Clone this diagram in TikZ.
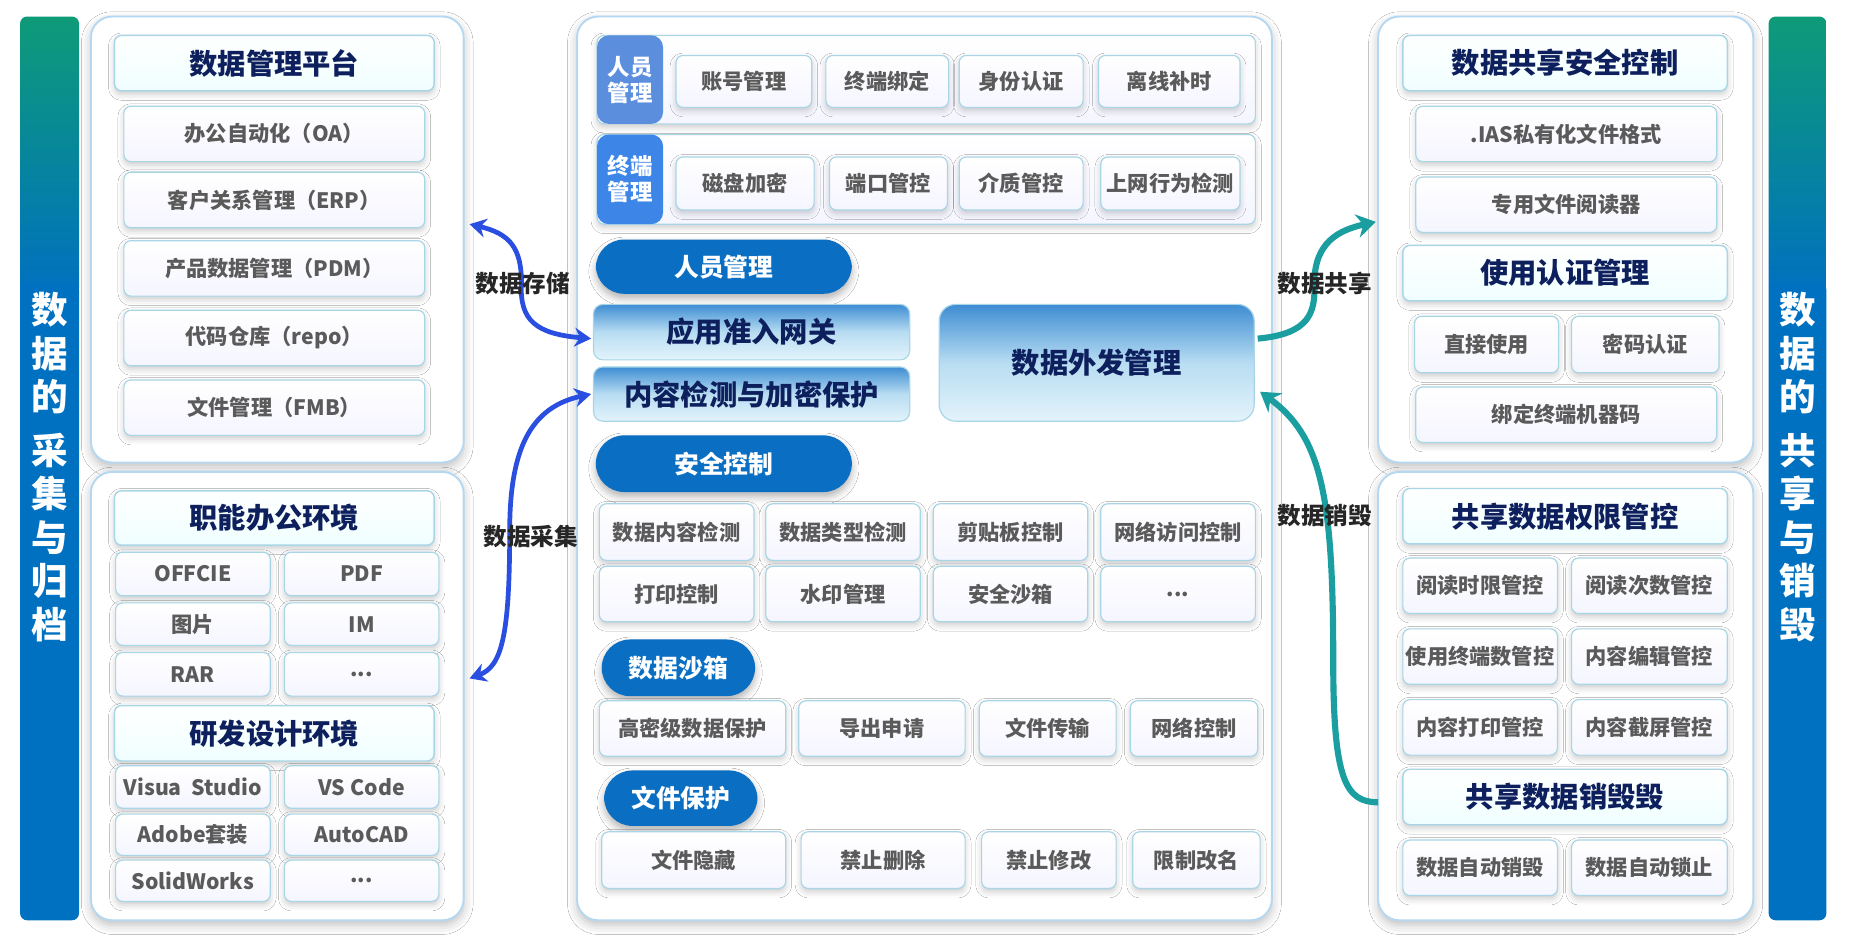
\documentclass[tikz,border=0pt]{standalone}
\usepackage{fontspec}
\setmainfont{Noto Sans CJK SC}
\usetikzlibrary{arrows.meta,shadows.blur}
\definecolor{navy}{HTML}{0D1F5C}
\definecolor{itg}{HTML}{5A5A5A}
\definecolor{bd}{HTML}{A9D6E6}
\definecolor{pbd}{HTML}{B5D8F2}
\definecolor{pill}{HTML}{0A6EC2}
\definecolor{arrB}{HTML}{2A4EE0}
\definecolor{arrT}{HTML}{1A9EA0}
\definecolor{barG}{HTML}{0E9B78}
\definecolor{barB}{HTML}{0070C0}
\tikzset{
 panel/.style={draw=pbd,line width=0.8pt,fill=white,rounded corners=9pt,blur shadow={shadow xshift=0pt,shadow yshift=-2pt,shadow blur radius=4pt,shadow opacity=25}},
 hdr/.style={draw=bd,line width=0.6pt,rounded corners=3pt,top color=white,bottom color=blue!4!cyan!6,text=navy,font=\bfseries\fontsize{12}{14}\selectfont,blur shadow={shadow xshift=0pt,shadow yshift=-1.5pt,shadow blur radius=2.5pt,shadow opacity=20}},
 itm/.style={draw=bd,line width=0.5pt,rounded corners=3pt,top color=white,bottom color=cyan!5!blue!4,text=itg,font=\bfseries\fontsize{9}{11}\selectfont,blur shadow={shadow xshift=0pt,shadow yshift=-1.5pt,shadow blur radius=2.5pt,shadow opacity=20}},
 grad/.style={draw=bd,line width=0.5pt,rounded corners=4pt,top color=HTMLa,bottom color=HTMLb,middle color=HTMLm,text=navy,font=\bfseries\fontsize{12}{14}\selectfont},
 pl/.style={fill=pill,rounded corners=12pt,text=white,font=\bfseries\fontsize{10.5}{12}\selectfont,blur shadow={shadow xshift=0pt,shadow yshift=-2pt,shadow blur radius=3pt,shadow opacity=30}},
 tile/.style={rounded corners=5pt,text=white,font=\bfseries\fontsize{9.5}{11}\selectfont,align=center},
 bar/.style={rounded corners=3pt},
 vt/.style={text=white,font=\bfseries\fontsize{15.5}{18.5}\selectfont,align=center,text width=18pt},
 lab/.style={text=black!85,font=\bfseries\fontsize{10}{12}\selectfont},
 arB/.style={draw=arrB,line width=2pt,{Stealth[length=7pt,width=8pt]}-{Stealth[length=7pt,width=8pt]}},
 arT/.style={draw=arrT,line width=2.6pt,-{Stealth[length=8pt,width=10pt]}},
}
\definecolor{HTMLa}{HTML}{3E8DD3}
\definecolor{HTMLm}{HTML}{B8DDF2}
\definecolor{HTMLb}{HTML}{E3F3FB}
\newcommand{\bx}[7]{\node[#6,inner sep=0pt,minimum width={(#4-#2)*0.5pt},minimum height={(#5-#3)*0.5pt}] (#1) at ({(#2+#4)/2},{(#3+#5)/2}) {#7};}
\begin{document}
\begin{tikzpicture}[x=0.5pt,y=-0.5pt]
\useasboundingbox[fill=white] (0,0) rectangle (1568,797);
% side bars
\shade[bar,top color=barG,bottom color=barB] (17,14) rectangle (67,250);
\fill[barB,rounded corners=3pt] (17,240) rectangle (67,780);
\fill[barB] (17,240) rectangle (67,260);
\node[vt] (lt) at (42,396) {数\\据\\的\\[4pt]采\\集\\与\\归\\档};
\shade[bar,top color=barG,bottom color=barB] (1499,14) rectangle (1548,250);
\fill[barB,rounded corners=3pt] (1499,240) rectangle (1548,780);
\fill[barB] (1499,240) rectangle (1548,260);
\node[vt] (rt) at (1523.5,396) {数\\据\\的\\[4pt]共\\享\\与\\销\\毁};
% panels
\bx{lp1}{77}{14}{393}{392}{panel}{}
\bx{lp2}{77}{400}{393}{780}{panel}{}
\bx{cp}{489}{14}{1078}{780}{panel}{}
\bx{rp1}{1168}{14}{1486}{392}{panel}{}
\bx{rp2}{1168}{400}{1486}{780}{panel}{}
% left panel 1
\bx{h1}{97}{30}{368}{77}{hdr}{数据管理平台}
\bx{l1}{105}{90}{360}{137}{itm}{办公自动化（OA）}
\bx{l2}{105}{146}{360}{193}{itm}{客户关系管理（ERP）}
\bx{l3}{105}{204}{360}{251}{itm}{产品数据管理（PDM）}
\bx{l4}{105}{263}{360}{310}{itm}{代码仓库（repo）}
\bx{l5}{105}{322}{360}{369}{itm}{文件管理（FMB）}
% left panel 2
\bx{h2}{97}{416}{368}{462}{hdr}{职能办公环境}
\bx{a1}{98}{468}{229}{505}{itm}{OFFCIE}
\bx{a2}{241}{468}{372}{505}{itm}{PDF}
\bx{a3}{98}{511}{229}{547}{itm}{图片}
\bx{a4}{241}{511}{372}{547}{itm}{IM}
\bx{a5}{98}{553}{229}{590}{itm}{RAR}
\bx{a6}{241}{553}{372}{590}{itm}{...}
\bx{h3}{97}{598}{368}{645}{hdr}{研发设计环境}
\bx{b1}{98}{649}{229}{685}{itm}{Visua\ \ Studio}
\bx{b2}{241}{649}{372}{685}{itm}{VS Code}
\bx{b3}{98}{690}{229}{725}{itm}{Adobe套装}
\bx{b4}{241}{690}{372}{725}{itm}{AutoCAD}
\bx{b5}{98}{729}{229}{764}{itm}{SolidWorks}
\bx{b6}{241}{729}{372}{764}{itm}{...}
% center
\bx{r1}{506}{30}{1064}{105}{itm}{}
\bx{t1}{506}{30}{562}{105}{tile,fill={rgb,255:red,91;green,143;blue,222}}{人员\\管理}
\bx{c11}{573}{47}{688}{91}{itm}{账号管理}
\bx{c12}{700}{47}{804}{91}{itm}{终端绑定}
\bx{c13}{813}{47}{918}{91}{itm}{身份认证}
\bx{c14}{931}{47}{1051}{91}{itm}{离线补时}
\bx{r2}{506}{114}{1064}{190}{itm}{}
\bx{t2}{506}{114}{562}{190}{tile,fill={rgb,255:red,61;green,134;blue,232}}{终端\\管理}
\bx{c21}{573}{133}{690}{178}{itm}{磁盘加密}
\bx{c22}{703}{133}{803}{178}{itm}{端口管控}
\bx{c23}{813}{133}{918}{178}{itm}{介质管控}
\bx{c24}{933}{133}{1051}{178}{itm}{上网行为检测}
\bx{p1}{505}{203}{722}{249}{pl}{人员管理}
\bx{g1}{503}{258}{771}{305}{grad}{应用准入网关}
\bx{g2}{503}{311}{771}{357}{grad}{内容检测与加密保护}
\bx{g3}{796}{258}{1063}{357}{grad,rounded corners=7pt}{数据外发管理}
\bx{p2}{505}{369}{722}{417}{pl}{安全控制}
\bx{s1}{508}{427}{639}{475}{itm}{数据内容检测}
\bx{s2}{649}{427}{780}{475}{itm}{数据类型检测}
\bx{s3}{791}{427}{922}{475}{itm}{剪贴板控制}
\bx{s4}{933}{427}{1064}{475}{itm}{网络访问控制}
\bx{s5}{508}{480}{639}{527}{itm}{打印控制}
\bx{s6}{649}{480}{780}{527}{itm}{水印管理}
\bx{s7}{791}{480}{922}{527}{itm}{安全沙箱}
\bx{s8}{933}{480}{1064}{527}{itm}{...}
\bx{p3}{510}{542}{640}{590}{pl}{数据沙箱}
\bx{d1}{508}{594}{666}{641}{itm}{高密级数据保护}
\bx{d2}{677}{594}{818}{641}{itm}{导出申请}
\bx{d3}{830}{594}{946}{641}{itm}{文件传输}
\bx{d4}{958}{594}{1066}{641}{itm}{网络控制}
\bx{p4}{512}{653}{642}{700}{pl}{文件保护}
\bx{f1}{510}{705}{666}{753}{itm}{文件隐藏}
\bx{f2}{679}{705}{818}{753}{itm}{禁止删除}
\bx{f3}{832}{705}{946}{753}{itm}{禁止修改}
\bx{f4}{960}{705}{1068}{753}{itm}{限制改名}
% right panel 1
\bx{rh1}{1189}{30}{1464}{77}{hdr}{数据共享安全控制}
\bx{q1}{1200}{90}{1455}{137}{itm}{.IAS私有化文件格式}
\bx{q2}{1200}{150}{1455}{197}{itm}{专用文件阅读器}
\bx{rh2}{1189}{208}{1464}{255}{hdr}{使用认证管理}
\bx{q3}{1199}{268}{1321}{316}{itm}{直接使用}
\bx{q4}{1332}{268}{1457}{316}{itm}{密码认证}
\bx{q5}{1200}{328}{1455}{375}{itm}{绑定终端机器码}
% right panel 2
\bx{rh3}{1189}{414}{1464}{461}{hdr}{共享数据权限管控}
\bx{w1}{1189}{473}{1320}{520}{itm}{阅读时限管控}
\bx{w2}{1332}{473}{1464}{520}{itm}{阅读次数管控}
\bx{w3}{1189}{533}{1320}{580}{itm}{使用终端数管控}
\bx{w4}{1332}{533}{1464}{580}{itm}{内容编辑管控}
\bx{w5}{1189}{593}{1320}{640}{itm}{内容打印管控}
\bx{w6}{1332}{593}{1464}{640}{itm}{内容截屏管控}
\bx{rh4}{1189}{652}{1464}{699}{hdr}{共享数据销毁毁}
\bx{w7}{1189}{712}{1320}{759}{itm}{数据自动销毁}
\bx{w8}{1332}{712}{1464}{759}{itm}{数据自动锁止}
% arrows
\coordinate (e1) at (398,190);
\coordinate (e2) at (501,287);
\coordinate (e3) at (501,334);
\coordinate (e4) at (398,575);
\coordinate (e5) at (1066,287);
\coordinate (e6) at (1166,188);
\coordinate (e7) at (1168,680);
\coordinate (e8) at (1068,332);
\draw[arB] (e1) .. controls (432,198) and (442,210) .. (442,240) .. controls (440,272) and (455,283) .. (e2);
\draw[arB] (e3) .. controls (450,345) and (432,380) .. (432,450) .. controls (432,540) and (425,565) .. (e4);
\draw[arT] (e5) .. controls (1110,283) and (1115,265) .. (1114,240) .. controls (1114,205) and (1135,195) .. (e6);
\draw[arT] (e7) .. controls (1140,680) and (1130,660) .. (1130,560) .. controls (1130,420) and (1120,370) .. (e8);
\node[lab] (L1) at (443,240) {数据存储};
\node[lab] (L2) at (450,455) {数据采集};
\node[lab] (L3) at (1123,240) {数据共享};
\node[lab] (L4) at (1123,437) {数据销毁};
\end{tikzpicture}
\end{document}
